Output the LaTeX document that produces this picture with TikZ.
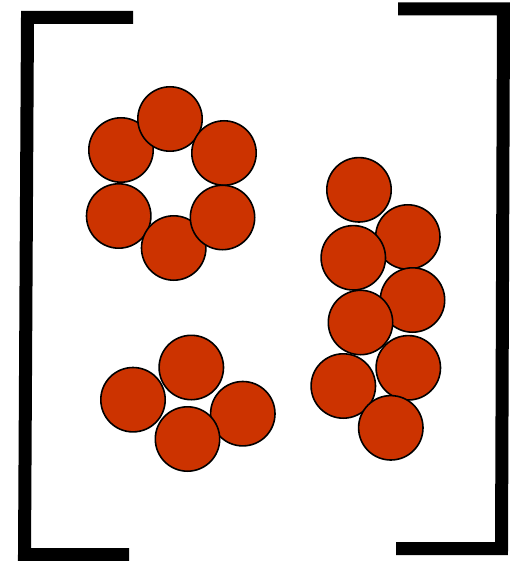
\documentclass[tikz,border=0pt]{standalone}
\usetikzlibrary{positioning}
\definecolor{rust}{RGB}{204,51,0}
\tikzset{
  bracket/.style={draw=black,line width=13pt,miter limit=10,line join=miter},
  bead/.style={fill=rust,draw=black,line width=1.6pt},
}
\begin{document}
\begin{tikzpicture}[x=1pt,y=-1pt]
  \useasboundingbox (0,0) rectangle (510,561);
  % brackets
  \draw[bracket] (133,17.5) -- (27.5,17.5) -- (24.5,554.5) -- (129,554.5);
  \draw[bracket] (398,9) -- (503.5,9) -- (501.5,548.5) -- (396,548.5);
  % ring of six
  \foreach \x/\y in {121/150,170/119,224/153,118.7/216,173.7/248,222.5/217.5}
    \path[bead] (\x,\y) circle (32.2);
  % group of four
  \foreach \x/\y in {133/399.7,191.3/367.5,242.8/413.7,187.5/439}
    \path[bead] (\x,\y) circle (32.2);
  % chain of eight
  \foreach \x/\y in {359/189.8,407.8/237,353.3/257.8,412.5/300,360.5/322.5,408.3/367.8,343.3/386,390.8/427.8}
    \path[bead] (\x,\y) circle (32.2);
\end{tikzpicture}
\end{document}
